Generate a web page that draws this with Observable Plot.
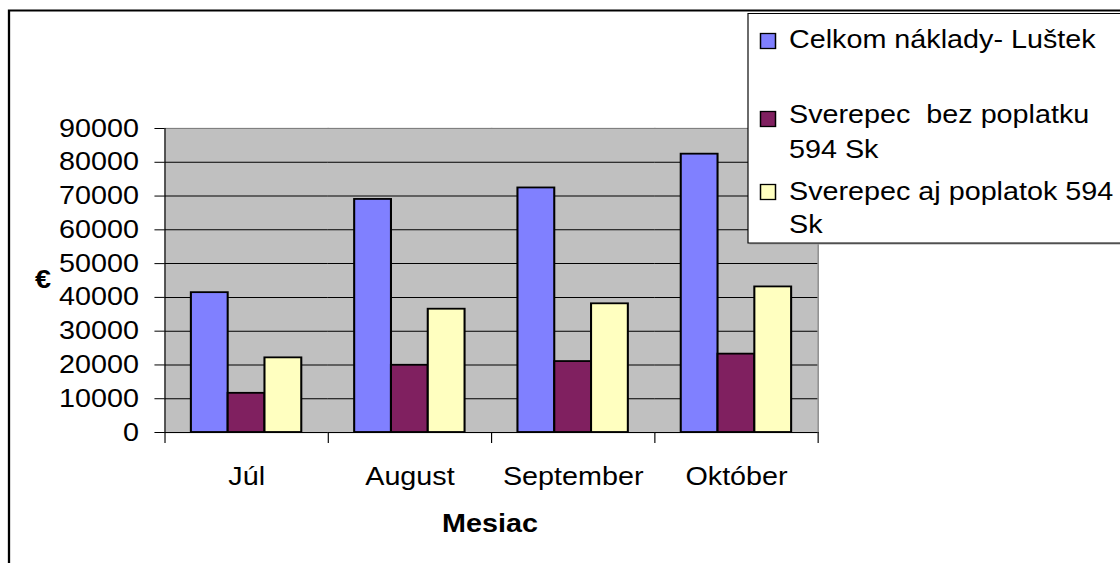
<!DOCTYPE html>
<html>
<head>
<meta charset="utf-8">
<script src="https://cdn.jsdelivr.net/npm/d3@7"></script>
<script src="https://cdn.jsdelivr.net/npm/@observablehq/plot@0.6"></script>
<style>
  html, body { margin: 0; padding: 0; background: #fff; overflow: hidden; }
  #wrap { position: relative; width: 974px; height: 563px; transform-origin: 0 0; transform: scaleX(1.149897); font-family: "Liberation Sans", Arial, sans-serif; }
  #wrap > svg { position: absolute; left: 0; top: 0; }
</style>
</head>
<body>
<div id="wrap"></div>
<script>
// ---- data ----
const months = ["Júl", "August", "September", "Október"];
const seriesNames = ["Celkom náklady- Luštek", "Sverepec  bez poplatku 594 Sk", "Sverepec aj poplatok 594 Sk"];
const legendLines = [["Celkom náklady- Luštek"], ["Sverepec  bez poplatku", "594 Sk"], ["Sverepec aj poplatok 594", "Sk"]];
const celkom = [41400, 69000, 72400, 82400];
const bezPoplatku = [11600, 19900, 21000, 23200];
const ajPoplatok = [22100, 36500, 38100, 43100];
const colors = ["#8080ff", "#802060", "#ffffc0"];
const yTicks = [0, 10000, 20000, 30000, 40000, 50000, 60000, 70000, 80000, 90000];
const yTitle = "€";
const xTitle = "Mesiac";

// ---- layout ----
const S = 1120 / 974;           // horizontal stretch of the original picture
const W = 974, H = 563;
const mT = 128, mB = 131, mL = 142, mR = 263;
const facetH = H - mT - mB;
const font = "'Liberation Sans', Arial, sans-serif";

const seriesValues = [celkom, bezPoplatku, ajPoplatok];
const data = months.flatMap((m, i) => seriesValues.map((arr, j) => ({month: m, series: seriesNames[j], value: arr[i]})));

const last = months[months.length - 1];
const chart = Plot.plot({
  width: W, height: H,
  marginTop: mT, marginBottom: mB, marginLeft: mL, marginRight: mR,
  style: {fontFamily: font, fontSize: "25px", color: "#000", background: "transparent", overflow: "visible"},
  fx: {domain: months, padding: 0, label: null},
  x: {domain: seriesNames, paddingInner: 0, paddingOuter: 0.7, axis: null},
  y: {domain: [0, 90000], label: null},
  color: {domain: seriesNames, range: colors},
  marks: [
    Plot.frame({fill: "#c0c0c0", stroke: "#c0c0c0", strokeWidth: 1.5}),
    Plot.gridY(yTicks.filter(t => t > 0 && t < 90000), {stroke: "#000", strokeOpacity: 1, strokeWidth: 1}),
    Plot.frame({anchor: "top", stroke: "#808080"}),
    Plot.frame({anchor: "right", stroke: "#808080", fx: last}),
    Plot.barY(data, {fx: "month", x: "series", y: "value", fill: "series", stroke: "#000", strokeWidth: 1.8}),
    Plot.frame({anchor: "left", stroke: "#000", fx: months[0]}),
    Plot.ruleY([0], {stroke: "#000"}),
    Plot.frame({anchor: "left", stroke: "#000", insetTop: facetH - 10, dy: 10}),
    Plot.frame({anchor: "right", stroke: "#000", insetTop: facetH - 10, dy: 10, fx: last}),
    Plot.axisY(yTicks, {tickSize: 10 / S, tickPadding: 16 / S, tickFormat: d3.format("d"), label: null, fontSize: 25, stroke: "#000"}),
    Plot.axisFx({anchor: "bottom", tickSize: 0, tickPadding: 35, label: null, fontSize: 25})
  ]
});
document.getElementById("wrap").appendChild(chart);

// ---- overlay: border, titles, legend ----
const ov = d3.create("svg").attr("width", W).attr("height", H)
  .style("overflow", "visible").attr("font-family", font);

ov.append("rect").attr("x", 9 / S).attr("y", 10.5).attr("width", 2000).attr("height", 2000)
  .attr("fill", "none").attr("stroke", "#000").attr("stroke-width", 2);

ov.append("text").attr("x", 43 / S).attr("y", 288).attr("text-anchor", "middle")
  .attr("font-weight", "bold").attr("font-size", 25).text(yTitle);
ov.append("text").attr("x", 490 / S).attr("y", 532).attr("text-anchor", "middle")
  .attr("font-weight", "bold").attr("font-size", 25).text(xTitle);

const lgX = 748 / S, lgY = 13.5, lgH = 229.5;
ov.append("rect").attr("x", lgX + 1.5 / S).attr("y", lgY + 1.5).attr("width", 600).attr("height", lgH).attr("fill", "#a0a0a0");
ov.append("rect").attr("x", lgX).attr("y", lgY).attr("width", 600).attr("height", lgH)
  .attr("fill", "#fff").attr("stroke", "#000").attr("stroke-width", 1);

const swatchTops = [33, 111, 184];
const baselines = [[48], [123, 158], [200, 233]];
legendLines.forEach((lines, i) => {
  ov.append("rect").attr("x", 760.5 / S).attr("y", swatchTops[i] + 0.5)
    .attr("width", 15 / S).attr("height", 15)
    .attr("fill", colors[i]).attr("stroke", "#000").attr("stroke-width", 1.3);
  lines.forEach((ln, k) => {
    ov.append("text").attr("x", 789 / S).attr("y", baselines[i][k]).attr("font-size", 25)
      .style("white-space", "pre").attr("fill", "#000").text(ln);
  });
});
document.getElementById("wrap").appendChild(ov.node());
</script>
</body>
</html>
